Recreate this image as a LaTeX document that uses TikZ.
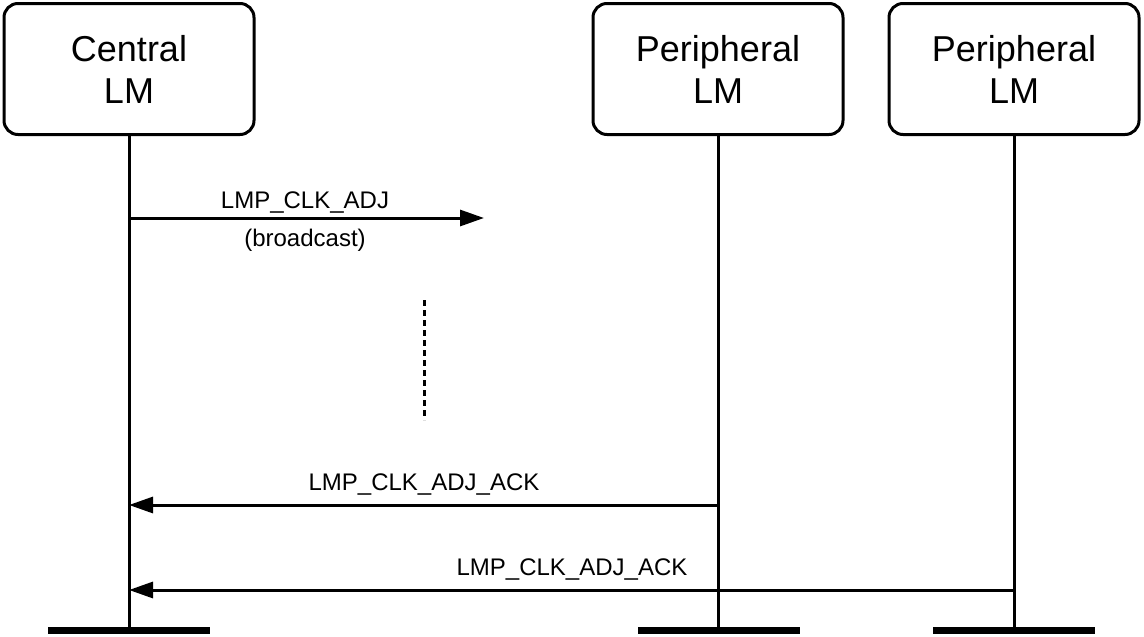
\documentclass[tikz,border=0pt]{standalone}
\usepackage{fontspec}
\setmainfont{Liberation Sans}
\usetikzlibrary{arrows.meta}
\begin{document}
\begin{tikzpicture}[x=1pt,y=-1pt,
  box/.style={draw,line width=3pt,rounded corners=14pt,minimum width=250pt,minimum height=131pt,align=center,font=\fontsize{36}{42}\selectfont},
  life/.style={line width=3pt},
  bar/.style={line width=7pt},
  msg/.style={line width=3pt,-{Triangle[length=24pt,width=16pt]}},
  lbl/.style={font=\fontsize{24}{28}\selectfont}]
\useasboundingbox (0,0) rectangle (1144,637);
\node[box] (c) at (129,69) {Central\\LM};
\node[box] (p1) at (718,69) {Peripheral\\LM};
\node[box] (p2) at (1014,69) {Peripheral\\LM};
\coordinate (ce) at (129,630);
\coordinate (p1e) at (718,630);
\coordinate (p2e) at (1014,630);
\draw[life] (c.south) -- (ce);
\draw[life] (p1.south) -- (p1e);
\draw[life] (p2.south) -- (p2e);
\draw[bar] (48,630) -- (210,630);
\draw[bar] (638,630) -- (800,630);
\draw[bar] (933,630) -- (1095,630);
\coordinate (a1s) at (129,218);
\coordinate (a1e) at (484,218);
\draw[msg] (a1s) -- (a1e);
\node[lbl] (l1) at (305,203) {LMP\_CLK\_ADJ};
\node[lbl] (l1b) at (305,240) {(broadcast)};
\coordinate (d1) at (424,300);
\coordinate (d2) at (424,420);
\draw[line width=3pt,dash pattern=on 6pt off 4pt] (d1) -- (d2);
\coordinate (a2s) at (718,505);
\coordinate (a2e) at (129,505);
\draw[msg] (a2s) -- (a2e);
\node[lbl] (l2) at (424,485) {LMP\_CLK\_ADJ\_ACK};
\coordinate (a3s) at (1014,590);
\coordinate (a3e) at (129,590);
\draw[msg] (a3s) -- (a3e);
\node[lbl] (l3) at (572,570) {LMP\_CLK\_ADJ\_ACK};
\end{tikzpicture}
\end{document}
